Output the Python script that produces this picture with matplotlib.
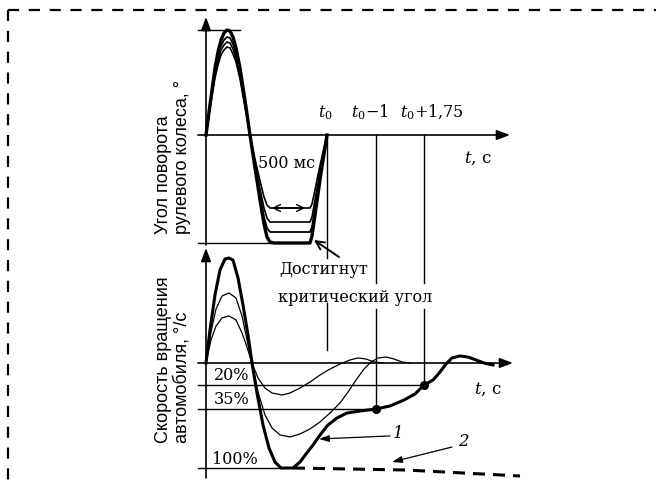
import numpy as np
import matplotlib
matplotlib.use("Agg")
import matplotlib.pyplot as plt
from matplotlib.lines import Line2D
from matplotlib.collections import LineCollection

plt.rcParams["lines.scale_dashes"] = False
plt.rcParams["mathtext.fontset"] = "dejavuserif"

SERIF = "DejaVu Serif"
SANS = "Liberation Sans"

# ---------------------------------------------------------------------------
# Steering-wheel angle: sine with dwell, four test amplitudes (schematic units)
steer_t = [0, 3, 6, 9, 12, 15, 18, 21, 24, 27, 30, 34, 39, 44, 49, 54, 58, 61,
           64, 68, 94, 104, 106, 109, 112, 115, 118, 121]
steer_1 = [0, 23, 45, 67, 83, 95, 102, 105, 104, 98, 87, 67, 35, 0, -33, -65,
           -89, -102, -107, -108, -108, -108, -101, -80, -59, -38, -19, 0]
steer_2 = [0, 22, 43, 63, 78, 89, 95, 98, 97, 91, 81, 62, 32, 0, -31, -60,
           -82, -93, -97, -97, -97, -97, -92, -73, -54, -35, -17, 0]
steer_3 = [0, 21, 41, 60, 74, 85, 90, 93, 92, 86, 77, 59, 30, 0, -28, -54,
           -73, -83, -87, -87, -87, -87, -82, -65, -48, -31, -15, 0]
steer_4 = [0, 20, 39, 57, 70, 80, 85, 88, 87, 81, 73, 56, 28, 0, -24, -46,
           -62, -70, -73, -73, -73, -73, -69, -55, -40, -26, -13, 0]
steer_peak_ref = 105
steer_trough_ref = -108

# Time markers
marker_t = [121, 170, 218]
marker_labels = ["$t_0$", "$t_0$\u22121", "$t_0$+1,75"]

# ---------------------------------------------------------------------------
# Vehicle yaw rate, % of the first peak
yaw1_t = [0, 4, 9, 14, 19, 23, 27, 32, 37, 42, 46, 51, 57, 63, 69, 75, 87, 94,
          100, 107, 114, 122, 131, 141, 154, 170, 184, 198, 209, 218, 227, 234,
          240, 246, 254, 262, 270, 278, 287]
yaw1 = [0, 31.4, 64.8, 88.6, 99.0, 100, 98.1, 81.0, 55.2, 26.7, 0, -25, -52.6,
        -78.0, -93.4, -100, -100, -93.4, -84.6, -74.7, -63.6, -52.6, -44.9,
        -39.4, -37.2, -35, -33.1, -29.4, -25.6, -20, -15.5, -8.2, -0.9, 4.8,
        6.7, 5.7, 2.9, 0, -1.8]

yawA_t = [0, 5, 10, 16, 23, 30, 36, 41, 46, 52, 59, 66, 76, 84, 94, 104, 114,
          124, 134, 144, 152, 160, 168, 178]
yawA = [0, 21.9, 35.2, 42.9, 44.8, 41.0, 28.6, 15.2, 0, -13.6, -21.9, -25.0,
        -26.25, -25, -21.9, -17.3, -10.9, -5.5, -0.9, 2.9, 4.8, 3.8, 1.0, 0]

yawB_t = [0, 5, 10, 16, 23, 30, 36, 41, 46, 52, 59, 66, 74, 84, 94, 104, 114,
          124, 134, 142, 150, 158, 165, 172, 180, 188, 196, 204]
yawB = [0, 29.5, 51.4, 63.8, 66.7, 61.9, 44.8, 21.9, 0, -24.4, -41.6, -55.9,
        -63.6, -65.8, -62.5, -57.0, -49.3, -39.4, -31.25, -24.4, -15.5, -5.5,
        1.0, 4.8, 5.7, 3.8, 1.0, 0]

yaw2_t = [87, 200, 314]
yaw2 = [-100, -102.2, -108.8]

levels = [-20, -35, -100]
level_labels = ["20%", "35%", "100%"]
level_end_t = [218, 170, 77]

# ---------------------------------------------------------------------------
W, H = 656, 483
fig = plt.figure(figsize=(W / 100, H / 100), dpi=100)
fig.patch.set_facecolor("white")


def fpos(x, y):
    return x / W, 1 - y / H


T_LIM = (-206, 450)

# Lower diagram: yaw rate on a schematic (piecewise) scale
P_ANCH = [-1000, -100, -35, -20, 0, 1000]
D_ANCH = [-105 - 900 * 59 / 65, -105, -46, -22, 0, 1050]


def fwd(p):
    return np.interp(p, P_ANCH, D_ANCH)


def inv(d):
    return np.interp(d, D_ANCH, P_ANCH)


def bare(ax):
    ax.set_xticks([])
    ax.set_yticks([])
    ax.minorticks_off()
    for s in ax.spines.values():
        s.set_visible(False)
    ax.patch.set_alpha(0)


ax2 = fig.add_axes([0, 0, 1, 1])
ax2.set_yscale("function", functions=(fwd, inv))
ax2.set_xlim(*T_LIM)
ax2.set_ylim(float(inv(-120)), float(inv(363)))
bare(ax2)

# Upper diagram: steering angle
ax1 = fig.add_axes([0, 0, 1, 1])
ax1.set_xlim(*T_LIM)
ax1.set_ylim(-348, 135)
bare(ax1)

AX_LW = 1.2
K = "black"
RJ = dict(solid_joinstyle="round")


def axis_arrow(ax, x0, y0, x1, y1):
    ax.annotate("", xy=(x1, y1), xytext=(x0, y0),
                arrowprops=dict(arrowstyle="-|>,head_length=0.8,head_width=0.3",
                                mutation_scale=10, lw=AX_LW, color=K,
                                shrinkA=0, shrinkB=0))


def dashed_pieces(ts, ys, on=12.0, off=8.0):
    """Split a polyline into separate dash pieces along the time axis."""
    pieces = []
    start = ts[0]
    while start < ts[-1]:
        stop = min(start + on, ts[-1])
        knots = [start] + [t for t in ts if start < t < stop] + [stop]
        pieces.append(np.column_stack([knots, np.interp(knots, ts, ys)]))
        start += on + off
    return pieces


# yaw-rate diagram
ax2.add_collection(LineCollection(dashed_pieces(yaw2_t, yaw2), colors=K,
                                  linewidths=2.2, capstyle="butt"),
                   autolim=False)

axis_arrow(ax2, -8, 0, 307, 0)
axis_arrow(ax2, 0, float(inv(-115)), 0, float(inv(115)))

for lv, t_end in zip(levels, level_end_t):
    ax2.plot([-8, t_end], [lv, lv], color=K, lw=1.0)

bot_tops = [57.1, 51.4, 51.4]
bot_ends = [12.4, -35, -20]
for t, p0, p1 in zip(marker_t, bot_tops, bot_ends):
    ax2.plot([t, t], [p0, p1], color=K, lw=1.0)

ax2.plot(yawA_t, yawA, color=K, lw=0.9, **RJ)
ax2.plot(yawB_t, yawB, color=K, lw=0.9, **RJ)
ax2.plot(yaw1_t, yaw1, color=K, lw=2.2, **RJ)
ax2.plot([marker_t[1], marker_t[2]], [levels[1], levels[0]], "o", color=K,
         ms=5.5, ls="none")

ax2.annotate("", xy=(113, -68), xytext=(184, -64.7),
             arrowprops=dict(arrowstyle="-|>,head_length=0.6,head_width=0.2",
                             mutation_scale=10, lw=0.9, color=K,
                             shrinkA=0, shrinkB=0))
ax2.annotate("", xy=(186, -93.4), xytext=(246, -76.9),
             arrowprops=dict(arrowstyle="-|>,head_length=0.6,head_width=0.2",
                             mutation_scale=10, lw=0.9, color=K,
                             shrinkA=0, shrinkB=0))

# steering-angle diagram
axis_arrow(ax1, -8, 0, 304, 0)
axis_arrow(ax1, 0, -110, 0, 118)
ax1.plot([-8, 34], [steer_peak_ref] * 2, color=K, lw=1.0)
ax1.plot([-8, 68], [steer_trough_ref] * 2, color=K, lw=1.0)

for ys, lw in [(steer_4, 1.2), (steer_3, 1.2), (steer_2, 1.3), (steer_1, 2.4)]:
    ax1.plot(steer_t, ys, color=K, lw=lw, **RJ)

top_ends = [-123, -148, -148]
for t, a_end in zip(marker_t, top_ends):
    ax1.plot([t, t], [0, a_end], color=K, lw=1.0)

# 500 ms dwell dimension
ax1.annotate("", xy=(99, -73), xytext=(66, -73),
             arrowprops=dict(arrowstyle="<->,head_length=0.5,head_width=0.25",
                             mutation_scale=10, lw=1.0, color=K,
                             shrinkA=0, shrinkB=0))
# pointer to the end of dwell
ax1.annotate("", xy=(108, -105), xytext=(133, -122),
             arrowprops=dict(arrowstyle="->,head_length=0.6,head_width=0.3",
                             mutation_scale=10, lw=1.4, color=K,
                             shrinkA=0, shrinkB=0))

# ---------------------------------------------------------------------------
# Text
fig.text(*fpos(173, 234), "Угол поворота\nрулевого колеса, °", rotation=90,
         ha="center", va="bottom", multialignment="left", fontsize=13,
         family=SANS, linespacing=1.1)
fig.text(*fpos(173, 443), "Скорость вращения\nавтомобиля, °/с", rotation=90,
         ha="center", va="bottom", multialignment="left", fontsize=13,
         family=SANS, linespacing=1.1)

for cx, lab in zip([325, 369.5, 432], marker_labels):
    fig.text(*fpos(cx, 117), lab, ha="center", va="baseline", fontsize=11.5,
             family=SERIF)

fig.text(*fpos(478, 158), "$t$, с", ha="center", va="center", fontsize=12,
         family=SERIF)
fig.text(*fpos(488, 389), "$t$, с", ha="center", va="center", fontsize=12,
         family=SERIF)
fig.text(*fpos(287, 164), "500 мс", ha="center", va="center", fontsize=11.5,
         family=SERIF)
fig.text(*fpos(324, 270), "Достигнут", ha="center", va="center",
         fontsize=11.5, family=SERIF)
fig.text(*fpos(355, 297), "критический угол", ha="center", va="center",
         fontsize=11.5, family=SERIF)

for (cx, cy), lab in zip([(232, 376), (232, 399), (235, 460)], level_labels):
    fig.text(*fpos(cx, cy), lab, ha="center", va="center", fontsize=11.5,
             family=SERIF)

fig.text(*fpos(398, 434), "1", ha="center", va="center", fontsize=12,
         family=SERIF, style="italic")
fig.text(*fpos(463, 441), "2", ha="center", va="center", fontsize=12,
         family=SERIF, style="italic")

# dashed frame
fig.add_artist(Line2D([8 / W, 1], [1 - 10 / H] * 2, transform=fig.transFigure,
                      color=K, lw=1.6, dashes=(8, 7)))
fig.add_artist(Line2D([8 / W] * 2, [1 - 10 / H, 0], transform=fig.transFigure,
                      color=K, lw=1.6, dashes=(8, 7)))

fig.savefig("out.png", dpi=100, facecolor="white")
